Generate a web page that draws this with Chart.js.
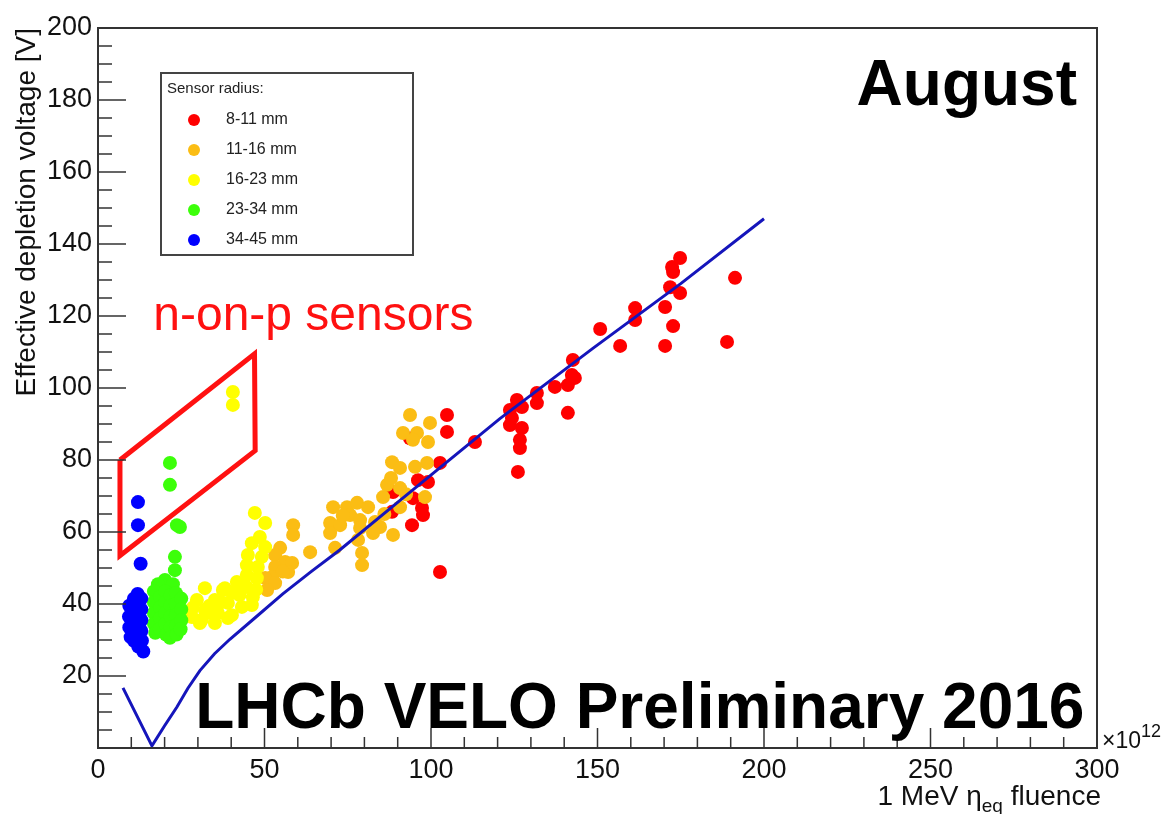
<!DOCTYPE html>
<html>
<head>
<meta charset="utf-8">
<script src="https://cdn.jsdelivr.net/npm/chart.js@4.4.1/dist/chart.umd.min.js"></script>
<style>
  body { margin: 0; background: #fff; }
</style>
</head>
<body>
<canvas id="plot" width="1173" height="814"></canvas>
<script>
// fluence [1e12 neq/cm2], effective depletion voltage [V], per sensor radius
var r8to11 = [[102.7,48.9],[94.3,61.9],[97.6,64.7],[97.3,66.7],[88.3,65.6],[94.6,69.4],[88.6,71.1],[96.1,74.4],[99.1,73.9],
  [102.7,79.2],[104.8,87.8],[104.8,92.5],[93.7,86],[113.2,85],[126.1,76.7],[126.7,83.3],[126.7,85.6],[127.3,88.9],[123.7,89.7],
  [124.3,91.7],[123.7,93.9],[127.3,94.7],[125.8,96.7],[131.8,95.8],[131.8,98.6],[137.2,100.3],[141.1,100.8],[143.2,102.8],
  [142.3,103.6],[142.6,107.8],[141.1,93.1],[150.8,116.4],[156.8,111.7],[161.3,118.9],[161.3,122.2],[170.3,111.7],[172.7,117.2],
  [170.3,122.5],[174.8,126.4],[171.8,128],[172.7,132.2],[172.4,133.6],[174.8,136.1],[188.9,112.8],[191.3,130.6]];
var r11to16 = [[93.7,92.5],[99.7,90.3],[91.6,87.5],[95.8,87.5],[94.6,85.6],[99.1,85],[88.3,79.4],[90.7,77.8],[95.2,78.1],
  [98.8,79.2],[86.8,73.1],[85.6,69.7],[90.7,72.2],[98.2,69.7],[90.7,66.9],[70.6,66.9],[74.8,66.9],[77.8,68.1],[81.1,66.9],
  [75.7,64.7],[78.7,63.3],[69.7,62.5],[72.7,61.9],[78.7,61.1],[83.2,62.8],[84.7,61.4],[69.7,59.7],[82.6,59.7],[88.6,59.2],
  [78.1,57.8],[63.7,54.4],[79.3,54.2],[79.3,50.8],[58.6,61.9],[58.6,59.2],[71.2,55.6],[54.7,55.6],[53.2,53.6],[56.2,51.7],
  [53.2,50.3],[58.3,51.4],[57.1,48.9],[52.3,47.5],[50.2,47.2],[53.2,45.8],[50.8,43.9],[55.5,49],[86,65],[92.5,70.5],[88,75],[73.5,64.5]];
var r16to23 = [[40.5,98.9],[40.5,95.3],[47.1,65.3],[50.2,62.5],[48.6,58.6],[46.2,56.9],[50.2,55.8],[45,53.6],[49.2,53.1],
  [44.7,50.8],[48,50.3],[44.7,48.1],[47.7,47.2],[41.7,46.1],[38.1,44.4],[32.1,44.4],[44.7,44.7],[40.2,43.1],[46.5,41.9],
  [35.1,41.1],[29.7,41.1],[39,40.3],[43.2,39.2],[46.2,39.7],[32.1,38.3],[36,37.5],[40.2,36.9],[31.2,35.6],[35.1,34.7],
  [39,36.1],[28.2,36.4],[30.6,34.7],[37.5,43.9],[33.5,39.5],[28.5,39],[42.5,42.5],[43,45.5],[37,40.5],[34,37.5],[47.5,44]];
var r23to34 = [[21.6,79.2],[21.6,73.1],[23.7,61.9],[24.6,61.4],[23.1,53.1],[23.1,49.4],[20.1,46.7],[22.5,45.5],[18,45.5],
  [16.8,43.5],[16.8,40.5],[16.8,37.5],[16.8,34.5],[17.2,32],[18.6,42],[18.6,39],[18.6,36],[18.6,33],
  [20.2,43.5],[20.2,40.5],[20.2,37.5],[20.2,34.5],[20.4,31.5],[21.8,42.5],[21.8,39.5],[21.8,36.5],[21.8,33.5],[21.6,30.6],
  [23.4,43],[23.4,40],[23.4,37],[23.4,34],[23.6,31.5],[25,41.5],[25,38.5],[25,35.5],[24.8,33]];
var r34to45 = [[12,68.3],[12,61.9],[12.8,51.2],[9.4,39.5],[9.3,36.5],[9.4,33.5],[9.8,30.8],[10.8,41.5],[10.6,38.5],
  [10.6,35.5],[10.6,32.5],[10.8,29.8],[11.9,42.8],[11.9,39.8],[11.9,36.8],[11.9,33.8],[11.9,30.8],[12.1,28.2],
  [13,41.5],[13,38.5],[13,35.5],[13,32.5],[13.2,29.8],[13.6,26.8]];

var radiusLabels = ['8-11 mm', '11-16 mm', '16-23 mm', '23-34 mm', '34-45 mm'];

// fitted curve
var fitFluence = [7.5, 16.2, 20, 23.7, 27, 30.6, 35, 39.6, 47.7, 55.5, 64, 72.6, 90.7, 120.7, 148.6, 175, 200];
var fitVoltage = [16.7, 0.6, 6.2, 11.4, 16.6, 21.5, 26.2, 30.2, 36.6, 42.8, 49, 55, 68.8, 91.5, 111, 129, 147];

// n-on-p sensors outline
var boxFluence = [6.6, 47, 47.2, 6.6, 6.6];
var boxVoltage = [80, 109.5, 82.6, 53.4, 80];

var xTickLabels = [0, 50, 100, 150, 200, 250, 300];
var yTickLabels = [20, 40, 60, 80, 100, 120, 140, 160, 180, 200];

var fam = "'Liberation Sans', Arial, Helvetica, sans-serif";
var colors = ['#ff0000', '#fbbd14', '#ffff00', '#3cff0a', '#0000ff'];
var groups = [r8to11, r11to16, r16to23, r23to34, r34to45];

var datasets = groups.map(function (g, i) {
  return {
    label: radiusLabels[i],
    isRadius: true,
    data: g.map(function (p) { return {x: p[0], y: p[1]}; }),
    backgroundColor: colors[i],
    borderWidth: 0,
    pointRadius: 7,
    order: 5 - i
  };
});
datasets.push({
  label: 'fit',
  data: fitFluence.map(function (v, i) { return {x: v, y: fitVoltage[i]}; }),
  showLine: true,
  borderColor: '#1515bb',
  borderWidth: 3,
  pointRadius: 0,
  order: 0
});
datasets.push({
  label: 'box',
  data: boxFluence.map(function (v, i) { return {x: v, y: boxVoltage[i]}; }),
  showLine: true,
  borderColor: '#ff1111',
  borderWidth: 5,
  borderJoinStyle: 'miter',
  pointRadius: 0,
  order: 0
});

var decor = {
  id: 'decor',
  afterDraw: function (chart) {
    var ctx = chart.ctx, a = chart.chartArea, x = chart.scales.x, y = chart.scales.y;
    ctx.save();
    // inner tick marks
    ctx.strokeStyle = '#333';
    ctx.lineWidth = 1.5;
    ctx.beginPath();
    y.ticks.forEach(function (t) {
      var py = y.getPixelForValue(t.value);
      var len = yTickLabels.indexOf(t.value) >= 0 ? 28 : 14;
      ctx.moveTo(a.left, py); ctx.lineTo(a.left + len, py);
    });
    x.ticks.forEach(function (t) {
      var px = x.getPixelForValue(t.value);
      var len = xTickLabels.indexOf(t.value) >= 0 ? 20 : 11;
      ctx.moveTo(px, a.bottom); ctx.lineTo(px, a.bottom - len);
    });
    ctx.stroke();
    ctx.lineWidth = 2;
    ctx.strokeRect(a.left, a.top, a.right - a.left, a.bottom - a.top);

    // legend
    var lx = a.left + 63, ly = a.top + 45;
    ctx.fillStyle = '#fff';
    ctx.fillRect(lx, ly, 252, 182);
    ctx.strokeStyle = '#444';
    ctx.lineWidth = 2;
    ctx.strokeRect(lx, ly, 252, 182);
    ctx.fillStyle = '#222';
    ctx.textBaseline = 'middle';
    ctx.textAlign = 'left';
    ctx.font = '15px ' + fam;
    ctx.fillText('Sensor radius:', lx + 6, ly + 16);
    ctx.font = '16px ' + fam;
    chart.data.datasets.filter(function (d) { return d.isRadius; }).forEach(function (d, i) {
      var cy = ly + 47 + i * 30;
      ctx.fillStyle = d.backgroundColor;
      ctx.beginPath();
      ctx.arc(lx + 33, cy, 6, 0, Math.PI * 2);
      ctx.fill();
      ctx.fillStyle = '#222';
      ctx.fillText(d.label, lx + 65, cy);
    });

    // annotations
    ctx.textBaseline = 'alphabetic';
    ctx.fillStyle = '#000';
    ctx.font = 'bold 64px ' + fam;
    ctx.textAlign = 'right';
    ctx.fillText('August', x.getPixelForValue(294), y.getPixelForValue(178.5));
    ctx.textAlign = 'left';
    ctx.fillText('LHCb VELO Preliminary 2016', x.getPixelForValue(29.2), y.getPixelForValue(5.6));
    ctx.fillStyle = '#ff1111';
    ctx.font = '48px ' + fam;
    ctx.fillText('n-on-p sensors', x.getPixelForValue(16.6), y.getPixelForValue(116));

    // x title with subscript
    ctx.fillStyle = '#111';
    ctx.font = '28px ' + fam;
    var t1 = '1 MeV \u03b7', t2 = ' fluence';
    var w1 = ctx.measureText(t1).width, w2 = ctx.measureText(t2).width;
    ctx.font = '19px ' + fam;
    var ws = ctx.measureText('eq').width;
    var bx = a.right + 4 - (w1 + ws + w2), by = a.bottom + 57;
    ctx.font = '28px ' + fam;
    ctx.fillText(t1, bx, by);
    ctx.fillText(t2, bx + w1 + ws, by);
    ctx.font = '19px ' + fam;
    ctx.fillText('eq', bx + w1, by + 7);

    // exponent
    ctx.font = '23px ' + fam;
    ctx.fillText('\u00d710', a.right + 5, a.bottom);
    var we = ctx.measureText('\u00d710').width;
    ctx.font = '18px ' + fam;
    ctx.fillText('12', a.right + 5 + we, a.bottom - 11);
    ctx.restore();
  }
};

new Chart(document.getElementById('plot'), {
  type: 'scatter',
  data: { datasets: datasets },
  options: {
    responsive: false,
    animation: false,
    events: [],
    layout: { padding: { top: 28, right: 76, bottom: 0, left: 0 } },
    plugins: { legend: { display: false }, tooltip: { enabled: false } },
    scales: {
      x: {
        type: 'linear', min: 0, max: 300,
        grid: { display: false, drawTicks: false },
        border: { display: false },
        ticks: {
          stepSize: 10, autoSkip: false, maxRotation: 0, padding: 6,
          color: '#111', font: { size: 27, family: fam },
          callback: function (v) { return xTickLabels.indexOf(v) >= 0 ? String(v) : ''; }
        },
        afterFit: function (s) { s.height = 66; s.paddingLeft = 0; s.paddingRight = 0; }
      },
      y: {
        type: 'linear', min: 0, max: 200,
        grid: { display: false, drawTicks: false },
        border: { display: false },
        ticks: {
          stepSize: 5, autoSkip: false, padding: 6,
          color: '#111', font: { size: 27, family: fam },
          callback: function (v) { return yTickLabels.indexOf(v) >= 0 ? String(v) : ''; }
        },
        title: {
          display: true, text: 'Effective depletion voltage [V]', align: 'end',
          color: '#111', font: { size: 28, family: fam }, padding: { top: 10, bottom: 0 }
        },
        afterFit: function (s) { s.width = 98; s.paddingTop = 0; s.paddingBottom = 0; }
      }
    }
  },
  plugins: [decor]
});
</script>
</body>
</html>
